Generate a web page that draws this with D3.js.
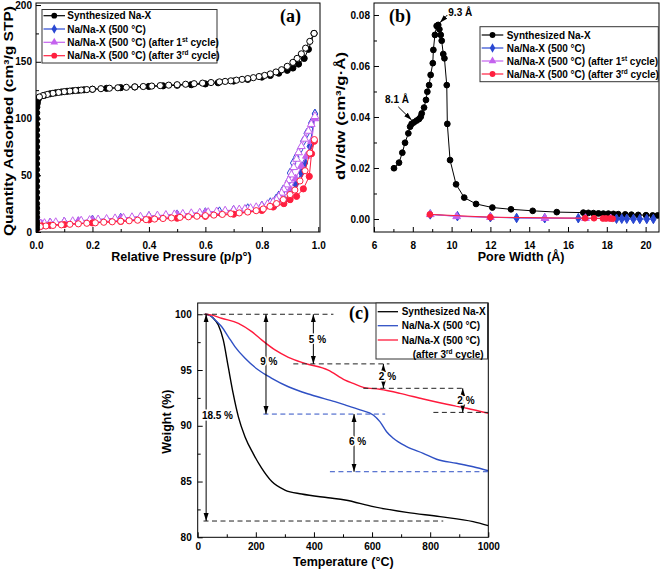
<!DOCTYPE html>
<html><head><meta charset="utf-8">
<script src="https://cdn.jsdelivr.net/npm/d3@7"></script>
<style>
body{margin:0;background:#fff;}
svg{display:block;font-family:"Liberation Sans",Arial,sans-serif;}
</style></head><body>
<svg id="chart" width="661" height="571"></svg>
<script>
// ---------- Panel (a): N2 isotherms ----------
const aXTicks = [0, 0.2, 0.4, 0.6, 0.8, 1.0];
const aYTicks = [0, 50, 100, 150, 200];
const aBlackAdsP = [0.002,0.002,0.002,0.002,0.002,0.002,0.002,0.002,0.002,0.002,0.002,0.002,0.002,0.002,0.002,0.002,0.002,0.002,0.002,0.002,0.002,0.002,0.0025,0.003,0.004,0.005,0.01,0.03,0.05,0.07,0.09,0.11,0.13,0.15,0.17,0.2,0.25,0.3,0.35,0.4,0.45,0.5,0.55,0.6,0.645,0.7,0.75,0.8,0.83,0.86,0.89,0.91,0.93,0.95,0.965,0.985];
const aBlackAdsQ = [3,6,9,13,17,21,25,30,35,40,45,50,55,60,65,70,75,80,85,90,95,100,105,110,113,115,118,120.5,121.8,122.7,123.4,124,124.5,124.9,125.3,125.8,126.6,127.2,127.8,128.3,128.8,129.3,129.8,130.5,131.5,133,134.5,136.5,138,140,142.5,144.5,148,153,161,175];
const aBlackDesP = [0.985,0.97,0.955,0.94,0.925,0.91,0.89,0.87,0.85,0.83,0.81,0.79,0.77,0.75,0.73,0.71,0.69,0.67,0.65,0.62,0.59,0.56,0.53,0.5,0.47,0.44,0.41,0.38,0.35,0.32,0.29,0.26,0.23,0.2,0.18,0.16,0.14,0.12,0.1,0.08,0.06,0.04,0.025,0.012];
const aBlackDesQ = [175,168,162,157,153,149.5,146,143,141,139.3,138,137,136,135.2,134.5,133.8,133.2,132.7,132.3,131.7,131.2,130.7,130.2,129.8,129.4,129,128.6,128.2,127.9,127.5,127.1,126.7,126.3,125.8,125.5,125.1,124.7,124.2,123.7,123,122.2,121.2,120.2,119];
const aBlueAdsP = [0.002,0.02,0.05,0.1,0.15,0.2,0.3,0.4,0.5,0.6,0.7,0.8,0.85,0.88,0.9,0.92,0.94,0.953,0.97,0.988];
const aBlueAdsQ = [3.5,6.2,7.2,8.2,9.1,10,11.6,13.2,14.8,16.6,18.6,22,25,28,33,42,52,60.8,75.5,104];
const aBlueDesP = [0.988,0.975,0.959,0.947,0.935,0.922,0.911,0.9,0.894,0.876,0.86,0.85,0.83,0.8,0.75,0.7,0.65,0.6,0.5,0.4,0.3,0.2,0.1,0.05,0.015];
const aBlueDesQ = [104,96,87,80,72.5,66,60.8,52,44.6,37.3,32,29,26,23,20.7,19.2,18,17.2,15.3,13.8,12.3,10.7,8.8,8,7.2];
const aPurpleAdsP = [0.003,0.02,0.05,0.1,0.15,0.2,0.3,0.4,0.5,0.6,0.7,0.8,0.85,0.87,0.9,0.92,0.94,0.958,0.976,0.988];
const aPurpleAdsQ = [4,7,7.8,8.7,9.6,10.4,12,13.6,15.2,17,19,22.5,26,29,37,47,58,67,80,100];
const aPurpleDesP = [0.988,0.975,0.965,0.952,0.94,0.93,0.923,0.913,0.905,0.895,0.888,0.878,0.87,0.86,0.852,0.84,0.82,0.8,0.78,0.76,0.74,0.72,0.7,0.67,0.64,0.61,0.58,0.55,0.52,0.49,0.46,0.43,0.4,0.37,0.34,0.31,0.28,0.25,0.22,0.19,0.16,0.13,0.1,0.07,0.05,0.03,0.015];
const aPurpleDesQ = [102,95,89,82,75.5,70,64.3,57,50.5,45.5,41.7,37.5,34.4,31,28.5,26.5,24.5,23,21.8,21,20.3,19.8,19.4,18.8,18.1,17.5,17,16.5,16,15.5,15,14.5,14,13.5,13,12.5,12,11.5,11,10.5,10,9.5,9,8.6,8.2,7.8,7.4];
const aRedAdsP = [0.001,0.002,0.004,0.02,0.05,0.1,0.2,0.3,0.4,0.5,0.6,0.7,0.8,0.84,0.878,0.9,0.923,0.947,0.968,0.976,0.986];
const aRedAdsQ = [2,3.5,5,5.5,6,6.5,8,9.3,10.7,12.2,13.8,15.7,19,22,25,28.5,31.4,38,49,69,80];
const aRedDesP = [0.986,0.97,0.953,0.935,0.917,0.9,0.876,0.852,0.829,0.805,0.78,0.75,0.72,0.69,0.66,0.63,0.6,0.57,0.54,0.51,0.48,0.45,0.42,0.39,0.36,0.33,0.3,0.27,0.24,0.21,0.18,0.15,0.12,0.09,0.06,0.035,0.015];
const aRedDesQ = [81.4,69.6,54,45,37,33,28.5,25,22.6,20.3,18.8,17.6,16.8,16.1,15.5,14.9,14.4,13.9,13.4,12.9,12.4,11.9,11.4,10.9,10.4,9.9,9.5,9,8.6,8.1,7.7,7.2,6.8,6.3,5.8,5.3,4.8];

// ---------- Panel (b): pore size distribution ----------
const bXTicks = [6, 8, 10, 12, 14, 16, 18, 20];
const bYTicks = [0, 0.02, 0.04, 0.06, 0.08];
const bBlackW = [7.03,7.29,7.46,7.60,7.77,7.86,7.94,8.06,8.20,8.32,8.41,8.46,8.58,8.68,8.75,8.84,8.92,9.03,9.06,9.14,9.23,9.31,9.37,9.44,9.49,9.57,9.63,9.75,9.78,9.92,10.23,10.65,11.26,12.10,13.06,14.18,15.42,16.79,17.05,17.31,17.57,17.82,18.08,18.34,18.59,18.95,19.27,19.62,20.02,20.36,20.62];
const bBlackV = [0.0199,0.0221,0.0260,0.0299,0.0336,0.0362,0.0373,0.0379,0.0386,0.0392,0.0401,0.0414,0.0437,0.0467,0.0499,0.0525,0.0565,0.0611,0.0663,0.0722,0.0757,0.0761,0.0744,0.0722,0.0699,0.0647,0.0630,0.0525,0.0373,0.0231,0.0136,0.0084,0.0059,0.0045,0.0038,0.0032,0.0027,0.0025,0.0024,0.0023,0.0022,0.0021,0.0021,0.0020,0.0019,0.0018,0.0017,0.0016,0.0015,0.0014,0.0014];
const bBlueW = [8.9,10.3,12.0,13.35,14.8,16.53,18.5,18.77,19.03,19.37,19.7,20.06,20.4];
const bBlueV = [0.0018,0.0011,0.0007,0.0004,0.0003,0.0003,0.0001,0.0001,0.0001,0.0000,0.0000,0.0000,0.0000];
const bPurpleW = [8.9,10.26,12.0,14.81,16.9,18.2];
const bPurpleV = [0.0018,0.0010,0.0007,0.0003,0.0003,0.0002];
const bRedW = [8.88,12.0,16.88,17.34,17.8,17.96,18.16,18.3];
const bRedV = [0.0018,0.0007,0.0003,0.0003,0.0002,0.0002,0.0002,0.0001];
const bNotes = [{text:"9.3 Å", x0:9.78, y0:0.0800, x1:9.40, y1:0.0770, tx:9.83, ty:0.0797},
                {text:"8.1 Å", x0:7.25, y0:0.0440, x1:7.94, y1:0.0388, tx:6.57, ty:0.0453}];

// ---------- Panel (c): TGA ----------
const cXTicks = [0, 200, 400, 600, 800, 1000];
const cYTicks = [80, 85, 90, 95, 100];
const cBlackT = [25,40,54,71,88,105,122,140,163,191,220,255,300,358,449,507,604,719,834,948,1000];
const cBlackW = [100,99.92,99.64,99.04,97.7,95.3,92.9,90.8,89.0,87.5,86.2,85.0,84.24,83.88,83.55,83.35,82.75,82.24,81.85,81.4,81.04];
const cBlueT = [25,40,60,82,105,128,163,209,255,312,392,472,507,559,604,627,650,673,719,776,822,891,948,1000];
const cBlueW = [100,99.92,99.49,98.9,98.0,97.1,96.05,95.0,94.26,93.5,92.76,92.16,91.87,91.42,90.97,90.37,89.47,88.88,88.13,87.53,87.0,86.64,86.33,85.97];
const cRedT = [25,50,82,140,186,220,266,312,369,449,507,535,570,627,696,776,857,926,1000];
const cRedW = [100,99.92,99.64,99.19,98.44,97.7,96.8,96.14,95.6,95.0,94.1,93.8,93.45,93.27,92.91,92.4,91.93,91.57,91.12];
const cDashBlack = [[100,20,467],[95.55,329,660],[93.36,570,920],[91.2,811,1000],[81.46,20,845]];
const cDashBlue = [[91.05,226,645],[85.88,455,1000]];
const cArrows = [[29,100,81.46],[235,100,91.05],[398,100,95.55],[538,91.05,85.88],[639,95.55,93.36],[912,93.36,91.2]];
const cLabels = [["18.5 %",68,90.97],["9 %",245,95.75],["5 %",412,97.76],["6 %",550,88.57],["2 %",653,94.47],["2 %",923,92.31]];

// ---------- colours ----------
const BLACK="#000000", BLUE="#2a48d2", PURPLE="#c462ee", RED="#ff1f3f";
const CBLUE="#2f50c4", CRED="#ff1a3c";

const svg = d3.select('#chart');
const defs = svg.append('defs');
defs.append('marker').attr('id','ah').attr('viewBox','0 -3 8 6').attr('refX',8).attr('refY',0)
  .attr('markerWidth',8).attr('markerHeight',6).attr('markerUnits','userSpaceOnUse')
  .attr('orient','auto-start-reverse')
  .append('path').attr('d','M0,-2.5L8,0L0,2.5Z').attr('fill','#000');

function makePanel(o){
  const x = d3.scaleLinear().domain(o.xd).range([o.l,o.r]);
  const y = d3.scaleLinear().domain(o.yd).range([o.b,o.t]);
  const g = svg.append('g');
  defs.append('clipPath').attr('id','clip'+o.name).append('rect')
    .attr('x',o.l).attr('y',o.t).attr('width',o.r-o.l).attr('height',o.b-o.t);
  const axes = g.append('g');
  axes.append('g').attr('transform',`translate(0,${o.b})`)
    .call(d3.axisBottom(x).tickValues(o.xMinor).tickSize(-3).tickFormat(''));
  axes.append('g').attr('transform',`translate(0,${o.b})`)
    .call(d3.axisBottom(x).tickValues(o.xMajor).tickSize(-5).tickPadding(o.xPad).tickFormat(o.xFmt));
  axes.append('g').attr('transform',`translate(${o.l},0)`)
    .call(d3.axisLeft(y).tickValues(o.yMinor).tickSize(-3).tickFormat(''));
  axes.append('g').attr('transform',`translate(${o.l},0)`)
    .call(d3.axisLeft(y).tickValues(o.yMajor).tickSize(-5).tickPadding(o.yPad).tickFormat(o.yFmt));
  axes.selectAll('.domain').remove();
  axes.selectAll('g').attr('font-family',null).attr('font-size',null);
  axes.selectAll('.tick line').attr('stroke','#000');
  axes.selectAll('.tick text').attr('font-size',10).attr('font-weight','bold').attr('fill','#000');
  const data = g.append('g').attr('clip-path',`url(#clip${o.name})`);
  g.append('rect').attr('x',o.l).attr('y',o.t).attr('width',o.r-o.l).attr('height',o.b-o.t)
    .attr('fill','none').attr('stroke','#000').attr('stroke-width',1);
  const ann = g.append('g');
  // titles
  g.append('text').attr('x',o.xtx).attr('y',o.xty).attr('text-anchor','middle')
    .attr('font-size',12.5).attr('font-weight','bold').text(o.xTitle);
  const yt = g.append('text').attr('transform',`translate(${o.ytx},${o.yty}) rotate(-90)`)
    .attr('text-anchor','middle').attr('font-size',12.5).attr('font-weight','bold');
  if(o.yLen) yt.attr('textLength',o.yLen).attr('lengthAdjust','spacingAndGlyphs');
  o.yTitle(yt);
  g.append('text').attr('x',o.lx).attr('y',o.ly).attr('font-family','"Liberation Serif","Times New Roman",serif')
    .attr('font-size',18).attr('font-weight','bold').text(o.label);
  return {x,y,g,data,ann};
}

const sym = {circle:d3.symbolCircle, diamond:d3.symbolDiamond, triangle:d3.symbolTriangle};
const symSize = {circle:30, diamond:26, triangle:26};

function series(p, xs, ys, color, shape, filled, size){
  const pts = xs.map((v,i)=>[v, ys[i]]);
  p.data.append('path').datum(pts).attr('fill','none').attr('stroke',color).attr('stroke-width',1)
    .attr('d', d3.line().x(d=>p.x(d[0])).y(d=>p.y(d[1])));
  p.data.append('g').selectAll('path').data(pts).join('path')
    .attr('transform',d=>`translate(${p.x(d[0])},${p.y(d[1])})`)
    .attr('d', d3.symbol().type(sym[shape]).size(size||symSize[shape]))
    .attr('fill', filled?color:'#fff').attr('stroke',color).attr('stroke-width',1);
}

function legendText(sel, base, sup, rest){
  sel.append('tspan').text(base);
  if(sup){
    sel.append('tspan').attr('font-size',6.5).attr('dy',-4).text(sup);
    sel.append('tspan').attr('dy',4).text(rest);
  }
}

// ================= Panel (a) =================
const pa = makePanel({name:'a', l:36, r:320, t:3, b:232, xd:[0,1.006], yd:[0,201.8],
  xMajor:aXTicks, xMinor:[0.1,0.3,0.5,0.7,0.9], yMajor:aYTicks, yMinor:[25,75,125,175],
  xFmt:d3.format('.1f'), yFmt:d3.format('d'), xPad:10, yPad:4,
  xTitle:'Relative Pressure (p/p°)', xtx:181.5, xty:261,
  ytx:12.5, yty:121, yLen:230, yTitle:t=>t.text('Quantity Adsorbed (cm³/g STP)'),
  label:'(a)', lx:280, ly:22});
series(pa, aBlueAdsP, aBlueAdsQ, BLUE, 'diamond', true);
series(pa, aBlueDesP, aBlueDesQ, BLUE, 'diamond', false);
series(pa, aPurpleAdsP, aPurpleAdsQ, PURPLE, 'triangle', true);
series(pa, aPurpleDesP, aPurpleDesQ, PURPLE, 'triangle', false);
series(pa, aRedAdsP, aRedAdsQ, RED, 'circle', true);
series(pa, aRedDesP, aRedDesQ, RED, 'circle', false);
series(pa, aBlackAdsP, aBlackAdsQ, BLACK, 'circle', true);
series(pa, aBlackDesP, aBlackDesQ, BLACK, 'circle', false);

const legA = [["Synthesized Na-X",BLACK,'circle'],["Na/Na-X (500 °C)",BLUE,'diamond'],
  ["Na/Na-X (500 °C) (after 1",PURPLE,'triangle',"st"," cycle)"],["Na/Na-X (500 °C) (after 3",RED,'circle',"rd"," cycle)"]];
function drawLegend(g, items, bx, by, bw, bh, ys, lx1, lx2, tx){
  g.append('rect').attr('x',bx).attr('y',by).attr('width',bw).attr('height',bh)
    .attr('fill','#fff').attr('stroke','#333').attr('stroke-width',1);
  items.forEach((it,i)=>{
    g.append('line').attr('x1',lx1).attr('x2',lx2).attr('y1',ys[i]).attr('y2',ys[i]).attr('stroke',it[1]).attr('stroke-width',1.2);
    g.append('path').attr('transform',`translate(${(lx1+lx2)/2},${ys[i]})`)
      .attr('d',d3.symbol().type(sym[it[2]]).size(26)).attr('fill',it[1]);
    const t = g.append('text').attr('x',tx).attr('y',ys[i]+3.6).attr('font-size',10).attr('font-weight','bold');
    legendText(t, it[0], it[3], it[4]);
  });
}
drawLegend(pa.ann, legA, 42, 9.5, 175, 53.5, [15.7,29,42.3,55.7], 43.5, 65, 67.3);

// ================= Panel (b) =================
const pb = makePanel({name:'b', l:374, r:659, t:3, b:232, xd:[6,20.69], yd:[-0.0051,0.0847],
  xMajor:bXTicks, xMinor:[7,9,11,13,15,17,19], yMajor:bYTicks, yMinor:[0.01,0.03,0.05,0.07],
  xFmt:d3.format('d'), yFmt:d3.format('.2f'), xPad:10, yPad:4,
  xTitle:'Pore Width (Å)', xtx:521, xty:261,
  ytx:344.5, yty:116, yLen:128, yTitle:t=>t.text('dV/dw (cm³/g·Å)'),
  label:'(b)', lx:389, ly:22});
series(pb, bBlackW, bBlackV, BLACK, 'circle', true, 26);
series(pb, bBlueW, bBlueV, BLUE, 'diamond', true);
series(pb, bPurpleW, bPurpleV, PURPLE, 'triangle', true);
series(pb, bRedW, bRedV, RED, 'circle', true, 26);
bNotes.forEach(n=>{
  pb.ann.append('line').attr('x1',pb.x(n.x0)).attr('y1',pb.y(n.y0)).attr('x2',pb.x(n.x1)).attr('y2',pb.y(n.y1))
    .attr('stroke','#000').attr('stroke-width',1).attr('marker-end','url(#ah)');
  pb.ann.append('text').attr('x',pb.x(n.tx)).attr('y',pb.y(n.ty)).attr('font-size',10).attr('font-weight','bold').text(n.text);
});
drawLegend(pb.ann, legA, 480, 26.7, 178.3, 55, [35,48,61,74], 481.7, 503.3, 506.7);

// ================= Panel (c) =================
const pc = makePanel({name:'c', l:197.7, r:488.3, t:303, b:537.3, xd:[0,1000], yd:[80,101.01],
  xMajor:cXTicks, xMinor:[100,300,500,700,900], yMajor:cYTicks, yMinor:[82.5,87.5,92.5,97.5],
  xFmt:d3.format('d'), yFmt:d3.format('d'), xPad:6, yPad:6,
  xTitle:'Temperature (°C)', xtx:343.3, xty:566,
  ytx:171, yty:421.7, yLen:null, yTitle:t=>t.text('Weight (%)'),
  label:'(c)', lx:349, ly:318.5});
const cLine = d3.line().curve(d3.curveMonotoneX).x(d=>pc.x(d[0])).y(d=>pc.y(d[1]));
[[cBlackT,cBlackW,BLACK],[cBlueT,cBlueW,CBLUE],[cRedT,cRedW,CRED]].forEach(s=>{
  pc.data.append('path').datum(s[0].map((v,i)=>[v,s[1][i]])).attr('fill','none')
    .attr('stroke',s[2]).attr('stroke-width',1.4).attr('d',cLine);
});
cDashBlack.forEach(d=>pc.ann.append('line').attr('x1',pc.x(d[1])).attr('x2',pc.x(d[2])).attr('y1',pc.y(d[0])).attr('y2',pc.y(d[0]))
  .attr('stroke','#222').attr('stroke-width',1).attr('stroke-dasharray','5,3.5'));
cDashBlue.forEach(d=>pc.ann.append('line').attr('x1',pc.x(d[1])).attr('x2',pc.x(d[2])).attr('y1',pc.y(d[0])).attr('y2',pc.y(d[0]))
  .attr('stroke',CBLUE).attr('stroke-width',1).attr('stroke-dasharray','5,3.5'));
cArrows.forEach(a=>pc.ann.append('line').attr('x1',pc.x(a[0])).attr('x2',pc.x(a[0])).attr('y1',pc.y(a[1])).attr('y2',pc.y(a[2]))
  .attr('stroke','#000').attr('stroke-width',1).attr('marker-start','url(#ah)').attr('marker-end','url(#ah)'));
cLabels.forEach(l=>pc.ann.append('text').attr('x',pc.x(l[1])).attr('y',pc.y(l[2])+3.6).attr('text-anchor','middle')
  .attr('font-size',10).attr('font-weight','bold').attr('stroke','#fff').attr('stroke-width',3)
  .attr('paint-order','stroke').text(l[0]));
// legend (c)
const lc = pc.ann;
lc.append('rect').attr('x',376).attr('y',303).attr('width',111.5).attr('height',56).attr('fill','#fff').attr('stroke','#333');
[["Synthesized Na-X",BLACK,311.7],["Na/Na-X (500 °C)",CBLUE,325.7],["Na/Na-X (500 °C)",CRED,340]].forEach(it=>{
  lc.append('line').attr('x1',377.7).attr('x2',398).attr('y1',it[2]).attr('y2',it[2]).attr('stroke',it[1]).attr('stroke-width',1.3);
  lc.append('text').attr('x',401.7).attr('y',it[2]+3.6).attr('font-size',10).attr('font-weight','bold').text(it[0]);
});
legendText(lc.append('text').attr('x',412.7).attr('y',357.9).attr('font-size',10).attr('font-weight','bold'),"(after 3","rd"," cycle)");
</script>
</body></html>
